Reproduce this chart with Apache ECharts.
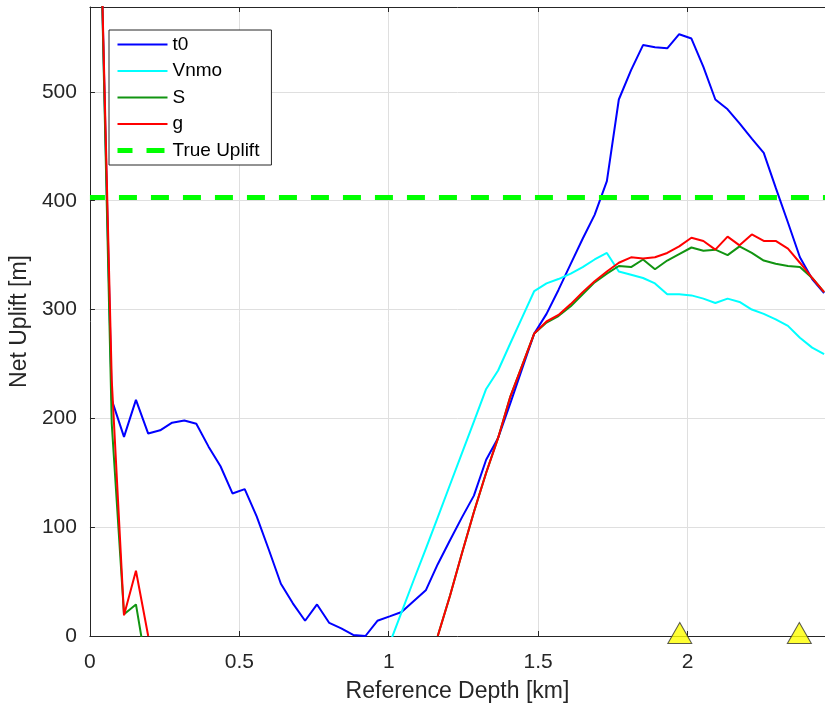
<!DOCTYPE html>
<html>
<head>
<meta charset="utf-8">
<script src="https://cdn.jsdelivr.net/npm/echarts@6/dist/echarts.min.js"></script>
<style>
  html, body { margin: 0; padding: 0; background: #ffffff; }
  #chart { width: 825px; height: 710px; }
</style>
</head>
<body>
<div id="chart"></div>
<script>
// ---- data ----
const depthKm = [
  0.033, 0.073, 0.114, 0.154, 0.195, 0.235, 0.275, 0.316, 0.356, 0.397,
  0.437, 0.477, 0.518, 0.558, 0.599, 0.639, 0.679, 0.720, 0.760, 0.801,
  0.841, 0.881, 0.922, 0.962, 1.003, 1.043, 1.083, 1.124, 1.164, 1.205,
  1.245, 1.285, 1.326, 1.366, 1.407, 1.447, 1.487, 1.528, 1.568, 1.609,
  1.649, 1.689, 1.730, 1.770, 1.811, 1.851, 1.891, 1.932, 1.972, 2.013,
  2.053, 2.093, 2.134, 2.174, 2.215, 2.255, 2.295, 2.336, 2.376, 2.417,
  2.457
];

const t0 = [
  680, 217, 183, 217, 186, 189, 196, 198, 195, 174,
  156, 131, 135, 110, 79, 48, 30, 14, 29, 12,
  7, 1, 0, 14, 18, 22, 32, 42, 66, 88,
  109, 129, 162, 182, 214, 246, 278, 296, 318, 342,
  365, 387, 418, 493, 520, 543, 541, 540, 553, 549,
  523, 493, 484, 471, 457, 444, 412, 380, 348, 328,
  315
];

const vnmo = [
  null, null, null, null, null, null, null, null, null, null,
  null, null, null, null, null, null, null, null, null, null,
  null, null, null, null, -7, 22, 51, 80, 109, 139,
  168, 197, 227, 244, 269, 293, 317, 324, 328, 333,
  339, 346, 352, 335, 332, 329, 324, 314, 314, 313,
  310, 306, 310, 307, 300, 296, 291, 285, 274, 265,
  259
];

const sVals = [
  680, 195, 20, 29, -38, null, null, null, null, null,
  null, null, null, null, null, null, null, null, null, null,
  null, null, null, null, null, null, null, null, 0, 37,
  76, 114, 150, 182, 220, 249, 278, 288, 294, 303,
  314, 325, 333, 340, 339, 346, 337, 345, 351, 357,
  354, 355, 350, 358, 352, 345, 342, 340, 339, 329,
  316
];

const gVals = [
  680, 235, 19, 60, 0, null, null, null, null, null,
  null, null, null, null, null, null, null, null, null, null,
  null, null, null, null, null, null, null, null, 0, 37,
  76, 114, 150, 182, 220, 249, 278, 289, 295, 305,
  316, 326, 335, 343, 348, 347, 348, 352, 358, 366,
  363, 355, 367, 359, 369, 363, 363, 356, 343, 329,
  316
];

const trueUplift = 403;
const markerDepths = [1.974, 2.374];

const xTickLabels = ['0', '0.5', '1', '1.5', '2'];
const yTickLabels = ['0', '100', '200', '300', '400', '500'];

const X_MIN = 0, X_MAX = 2.46, X_STEP = 0.5;
const Y_MIN = 0, Y_MAX = 578, Y_STEP = 100;

// ---- chart ----
const FONT = '"Liberation Sans", Arial, Helvetica, sans-serif';
const AX = '#262626';
const GRIDC = '#dfdfdf';
const COLORS = { t0: '#0000ff', Vnmo: '#00ffff', S: '#119411', g: '#ff0000', 'True Uplift': '#00ff00' };

function pairs(vals) {
  return depthKm.map((d, i) => [d, vals[i]]);
}
function lineSeries(name, vals) {
  const color = COLORS[name];
  return {
    name: name, type: 'line', data: pairs(vals),
    symbol: 'none', showSymbol: false, clip: true,
    lineStyle: { color: color, width: 2 }, itemStyle: { color: color },
    emphasis: { disabled: true }, silent: true
  };
}

const chart = echarts.init(document.getElementById('chart'), null, { renderer: 'canvas' });
chart.setOption({
  animation: false,
  backgroundColor: '#ffffff',
  textStyle: { fontFamily: FONT },
  grid: { left: 86, right: 0, top: 7, bottom: 74, containLabel: false },
  legend: {
    data: [
      { name: 't0', lineStyle: { width: 2, color: COLORS.t0 } },
      { name: 'Vnmo', lineStyle: { width: 2, color: COLORS.Vnmo } },
      { name: 'S', lineStyle: { width: 2, color: COLORS.S } },
      { name: 'g', lineStyle: { width: 2, color: COLORS.g } },
      { name: 'True Uplift', lineStyle: { width: 5, color: COLORS['True Uplift'], type: [18, 14] } }
    ],
    orient: 'vertical',
    left: 109, top: 30,
    padding: [5, 12, 5, 6],
    itemWidth: 50, itemHeight: 20, itemGap: 7.5,
    backgroundColor: '#ffffff',
    borderColor: AX, borderWidth: 1, borderRadius: 0,
    itemStyle: { opacity: 0 },
    textStyle: { fontSize: 19, color: '#000000', fontFamily: FONT },
    selectedMode: false
  },
  xAxis: [{
    type: 'value', min: X_MIN, max: X_MAX, interval: X_STEP, position: 'bottom',
    axisLine: { show: true, onZero: false, lineStyle: { color: AX, width: 1 } },
    axisTick: { show: true, inside: true, length: 5, lineStyle: { color: AX } },
    axisLabel: {
      fontSize: 21, color: AX, margin: 16, fontFamily: FONT,
      showMaxLabel: false,
      formatter: v => { const i = Math.round(v / X_STEP); return Math.abs(v - i * X_STEP) < 1e-9 && xTickLabels[i] !== undefined ? xTickLabels[i] : ''; }
    },
    splitLine: { show: true, lineStyle: { color: GRIDC, width: 1 } },
    name: 'Reference Depth [km]', nameLocation: 'middle', nameGap: 44,
    nameTextStyle: { fontSize: 23, color: AX, fontFamily: FONT }
  }, {
    type: 'value', min: X_MIN, max: X_MAX, interval: X_STEP, position: 'top',
    axisLine: { show: true, onZero: false, lineStyle: { color: AX, width: 1 } },
    axisTick: { show: true, inside: true, length: 5, lineStyle: { color: AX } },
    axisLabel: { show: false },
    splitLine: { show: false }
  }],
  yAxis: [{
    type: 'value', min: Y_MIN, max: Y_MAX, interval: Y_STEP, position: 'left',
    axisLine: { show: true, onZero: false, lineStyle: { color: AX, width: 1 } },
    axisTick: { show: true, inside: true, length: 5, lineStyle: { color: AX } },
    axisLabel: {
      fontSize: 21, color: AX, margin: 13, fontFamily: FONT,
      showMaxLabel: false,
      formatter: v => { const i = Math.round(v / Y_STEP); return Math.abs(v - i * Y_STEP) < 1e-9 && yTickLabels[i] !== undefined ? yTickLabels[i] : ''; }
    },
    splitLine: { show: true, lineStyle: { color: GRIDC, width: 1 } },
    name: 'Net Uplift [m]', nameLocation: 'middle', nameGap: 57, nameRotate: 90,
    nameTextStyle: { fontSize: 23, color: AX, fontFamily: FONT }
  }],
  series: [
    lineSeries('t0', t0),
    lineSeries('Vnmo', vnmo),
    lineSeries('S', sVals),
    lineSeries('g', gVals),
    {
      name: 'True Uplift', type: 'line',
      data: [[X_MIN, trueUplift], [X_MAX, trueUplift]],
      symbol: 'none', showSymbol: false, clip: true, silent: true,
      lineStyle: { color: COLORS['True Uplift'], width: 5, type: [18, 14], dashOffset: 3 },
      itemStyle: { color: COLORS['True Uplift'] }
    },
    {
      name: 'markers', type: 'scatter',
      data: markerDepths.map(d => [d, 0]),
      symbol: 'triangle', symbolSize: [24, 21], symbolOffset: [0, -3],
      clip: false, z: 10, silent: true,
      itemStyle: { color: '#ffff00', borderColor: '#333333', borderWidth: 1 }
    }
  ]
});
</script>
</body>
</html>
